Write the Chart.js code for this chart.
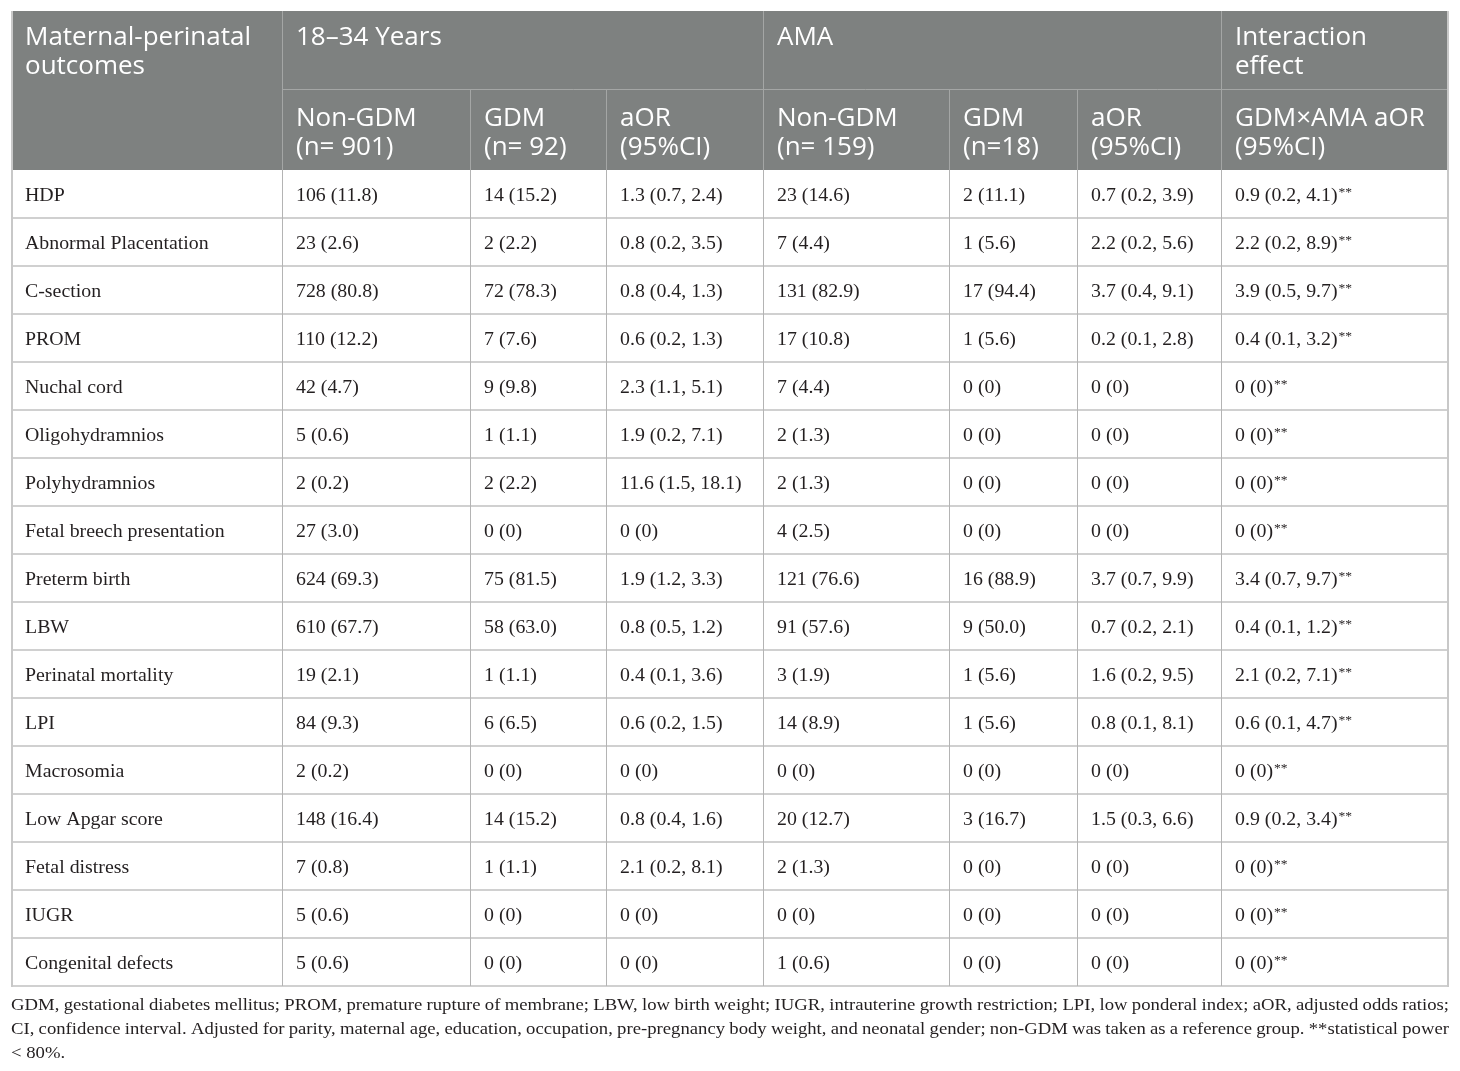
<!DOCTYPE html>
<html>
<head>
<meta charset="utf-8">
<script src="https://cdn.jsdelivr.net/npm/chart.js@4"></script>
<style>
    body { margin: 0; background: #fff; }
    #wrap { width: 1460px; height: 1071px; }
</style>
</head>
<body>
<div id="wrap"><canvas id="myChart"></canvas></div>
<script>
// row categories
const outcomes = ["HDP", "Abnormal Placentation", "C-section", "PROM", "Nuchal cord", "Oligohydramnios",
    "Polyhydramnios", "Fetal breech presentation", "Preterm birth", "LBW", "Perinatal mortality", "LPI",
    "Macrosomia", "Low Apgar score", "Fetal distress", "IUGR", "Congenital defects"];

// 18-34 years
const youngNonGdmN   = [106, 23, 728, 110, 42, 5, 2, 27, 624, 610, 19, 84, 2, 148, 7, 5, 5];
const youngNonGdmPct = [11.8, 2.6, 80.8, 12.2, 4.7, 0.6, 0.2, 3.0, 69.3, 67.7, 2.1, 9.3, 0.2, 16.4, 0.8, 0.6, 0.6];
const youngGdmN      = [14, 2, 72, 7, 9, 1, 2, 0, 75, 58, 1, 6, 0, 14, 1, 0, 0];
const youngGdmPct    = [15.2, 2.2, 78.3, 7.6, 9.8, 1.1, 2.2, 0, 81.5, 63.0, 1.1, 6.5, 0, 15.2, 1.1, 0, 0];
const youngAor       = [1.3, 0.8, 0.8, 0.6, 2.3, 1.9, 11.6, 0, 1.9, 0.8, 0.4, 0.6, 0, 0.8, 2.1, 0, 0];
const youngAorLo     = [0.7, 0.2, 0.4, 0.2, 1.1, 0.2, 1.5, 0, 1.2, 0.5, 0.1, 0.2, 0, 0.4, 0.2, 0, 0];
const youngAorHi     = [2.4, 3.5, 1.3, 1.3, 5.1, 7.1, 18.1, 0, 3.3, 1.2, 3.6, 1.5, 0, 1.6, 8.1, 0, 0];

// AMA
const amaNonGdmN     = [23, 7, 131, 17, 7, 2, 2, 4, 121, 91, 3, 14, 0, 20, 2, 0, 1];
const amaNonGdmPct   = [14.6, 4.4, 82.9, 10.8, 4.4, 1.3, 1.3, 2.5, 76.6, 57.6, 1.9, 8.9, 0, 12.7, 1.3, 0, 0.6];
const amaGdmN        = [2, 1, 17, 1, 0, 0, 0, 0, 16, 9, 1, 1, 0, 3, 0, 0, 0];
const amaGdmPct      = [11.1, 5.6, 94.4, 5.6, 0, 0, 0, 0, 88.9, 50.0, 5.6, 5.6, 0, 16.7, 0, 0, 0];
const amaAor         = [0.7, 2.2, 3.7, 0.2, 0, 0, 0, 0, 3.7, 0.7, 1.6, 0.8, 0, 1.5, 0, 0, 0];
const amaAorLo       = [0.2, 0.2, 0.4, 0.1, 0, 0, 0, 0, 0.7, 0.2, 0.2, 0.1, 0, 0.3, 0, 0, 0];
const amaAorHi       = [3.9, 5.6, 9.1, 2.8, 0, 0, 0, 0, 9.9, 2.1, 9.5, 8.1, 0, 6.6, 0, 0, 0];

// GDM x AMA interaction
const interAor       = [0.9, 2.2, 3.9, 0.4, 0, 0, 0, 0, 3.4, 0.4, 2.1, 0.6, 0, 0.9, 0, 0, 0];
const interAorLo     = [0.2, 0.2, 0.5, 0.1, 0, 0, 0, 0, 0.7, 0.1, 0.2, 0.1, 0, 0.2, 0, 0, 0];
const interAorHi     = [4.1, 8.9, 9.7, 3.2, 0, 0, 0, 0, 9.7, 1.2, 7.1, 4.7, 0, 3.4, 0, 0, 0];

const groupHeaders = [["Maternal-perinatal", "outcomes"], ["18\u201334 Years"], ["AMA"], ["Interaction", "effect"]];
const subHeaders = [["Non-GDM", "(n= 901)"], ["GDM", "(n= 92)"], ["aOR", "(95%CI)"],
    ["Non-GDM", "(n= 159)"], ["GDM", "(n=18)"], ["aOR", "(95%CI)"], ["GDM\u00d7AMA aOR", "(95%CI)"]];

const footLines = [
    "GDM, gestational diabetes mellitus; PROM, premature rupture of membrane; LBW, low birth weight; IUGR, intrauterine growth restriction; LPI, low ponderal index; aOR, adjusted odds ratios;",
    "CI, confidence interval. Adjusted for parity, maternal age, education, occupation, pre-pregnancy body weight, and neonatal gender; non-GDM was taken as a reference group. **statistical power",
    "< 80%."
];

// layout (x in table units, 0 = left table edge)
const colEdges = [0, 271, 459, 595, 752, 938, 1066, 1210, 1438];
const groupSpans = [[0, 1], [1, 4], [4, 7], [7, 8]];

function fmtCount(n, p) {
    return p === 0 ? n + " (0)" : n + " (" + p.toFixed(1) + ")";
}
function fmtAor(a, lo, hi) {
    return a === 0 ? "0 (0)" : a.toFixed(1) + " (" + lo.toFixed(1) + ", " + hi.toFixed(1) + ")";
}

const columns = [
    outcomes.slice(),
    outcomes.map((o, i) => fmtCount(youngNonGdmN[i], youngNonGdmPct[i])),
    outcomes.map((o, i) => fmtCount(youngGdmN[i], youngGdmPct[i])),
    outcomes.map((o, i) => fmtAor(youngAor[i], youngAorLo[i], youngAorHi[i])),
    outcomes.map((o, i) => fmtCount(amaNonGdmN[i], amaNonGdmPct[i])),
    outcomes.map((o, i) => fmtCount(amaGdmN[i], amaGdmPct[i])),
    outcomes.map((o, i) => fmtAor(amaAor[i], amaAorLo[i], amaAorHi[i])),
    outcomes.map((o, i) => fmtAor(interAor[i], interAorLo[i], interAorHi[i]))
];

const headFont = "25px 'Open Sans'";
const bodyFont = "19px 'Liberation Serif'";
const supFont = "13px 'Liberation Serif'";
const footFont = "17px 'Liberation Serif'";
const pad = 14;

// draw text a bit wider than the font gives (the original uses a wider face)
function wideText(ctx, t, x, y, sx) {
    ctx.save();
    ctx.translate(x, y);
    ctx.scale(sx, 1);
    ctx.fillText(t, 0, 0);
    ctx.restore();
}

const tablePlugin = {
    id: "tablePlugin",
    beforeDatasetsDraw(chart) {
        const ctx = chart.ctx;
        const x = chart.scales.x, y = chart.scales.y;
        const left = x.getPixelForValue(0), right = x.getPixelForValue(1438);
        const top = y.top, bottom = y.bottom;
        const band = (bottom - top) / outcomes.length;
        const headTop = 11, headMid = 89;

        ctx.save();
        // header block
        ctx.fillStyle = "#7e8180";
        ctx.fillRect(left, headTop, right - left, top - headTop);

        ctx.strokeStyle = "#a4a6a5";
        ctx.lineWidth = 1;
        ctx.beginPath();
        ctx.moveTo(x.getPixelForValue(colEdges[1]), headMid + 0.5);
        ctx.lineTo(right, headMid + 0.5);
        [1, 4, 7].forEach(c => {
            const px = Math.round(x.getPixelForValue(colEdges[c])) + 0.5;
            ctx.moveTo(px, headTop); ctx.lineTo(px, top);
        });
        [2, 3, 5, 6].forEach(c => {
            const px = Math.round(x.getPixelForValue(colEdges[c])) + 0.5;
            ctx.moveTo(px, headMid); ctx.lineTo(px, top);
        });
        ctx.stroke();

        // header text
        ctx.fillStyle = "#ffffff";
        ctx.font = headFont;
        ctx.textBaseline = "alphabetic";
        groupHeaders.forEach((lines, g) => {
            const px = x.getPixelForValue(colEdges[groupSpans[g][0]]) + pad;
            lines.forEach((t, k) => wideText(ctx, t, px, 45 + k * 29, 1.04));
        });
        subHeaders.forEach((lines, s) => {
            const px = x.getPixelForValue(colEdges[s + 1]) + pad;
            lines.forEach((t, k) => wideText(ctx, t, px, 126 + k * 29, 1.04));
        });

        // body rules
        ctx.strokeStyle = "#d0d0d0";
        ctx.lineWidth = 2;
        ctx.beginPath();
        for (let i = 1; i <= outcomes.length; i++) {
            const py = top + band * i;
            ctx.moveTo(left, py); ctx.lineTo(right, py);
        }
        ctx.stroke();

        ctx.strokeStyle = "#b4b4b4";
        ctx.lineWidth = 1;
        ctx.beginPath();
        for (let c = 1; c < colEdges.length - 1; c++) {
            const px = Math.round(x.getPixelForValue(colEdges[c])) + 0.5;
            ctx.moveTo(px, top); ctx.lineTo(px, bottom);
        }
        ctx.stroke();

        ctx.strokeStyle = "#c8c8c8";
        ctx.lineWidth = 2;
        ctx.beginPath();
        ctx.moveTo(left + 1, headTop); ctx.lineTo(left + 1, bottom + 1);
        ctx.moveTo(right - 1, headTop); ctx.lineTo(right - 1, bottom + 1);
        ctx.stroke();

        // footnote, justified
        ctx.fillStyle = "#231f20";
        ctx.font = footFont;
        const sx = 1.1;
        const width = right - left;
        footLines.forEach((line, k) => {
            const by = 1010 + k * 24;
            if (k === footLines.length - 1) {
                wideText(ctx, line, left, by, sx);
                return;
            }
            const words = line.split(" ");
            const used = words.reduce((s, w) => s + ctx.measureText(w).width * sx, 0);
            const gap = (width - used) / (words.length - 1);
            let px = left;
            words.forEach(w => {
                wideText(ctx, w, px, by, sx);
                px += ctx.measureText(w).width * sx + gap;
            });
        });
        ctx.restore();
    },
    afterDatasetsDraw(chart) {
        const ctx = chart.ctx;
        const sx = 1.045;
        ctx.save();
        ctx.fillStyle = "#231f20";
        ctx.textBaseline = "alphabetic";
        chart.data.datasets.forEach((ds, c) => {
            const meta = chart.getDatasetMeta(c);
            meta.data.forEach((pt, i) => {
                const t = columns[c][i];
                ctx.font = bodyFont;
                wideText(ctx, t, pt.x + pad, pt.y + 7, sx);
                if (c === columns.length - 1) {
                    const w = ctx.measureText(t).width * sx;
                    ctx.font = supFont;
                    wideText(ctx, "**", pt.x + pad + w + 1, pt.y + 2, sx);
                }
            });
        });
        ctx.restore();
    }
};

const datasets = columns.map((col, c) => ({
    label: c === 0 ? "Maternal-perinatal outcomes" : subHeaders[c - 1].join(" "),
    data: outcomes.map(o => ({ x: colEdges[c], y: o })),
    pointRadius: 0,
    pointHoverRadius: 0,
    showLine: false
}));

new Chart(document.getElementById("myChart"), {
    type: "scatter",
    data: { labels: outcomes, datasets: datasets },
    options: {
        responsive: true,
        maintainAspectRatio: false,
        animation: false,
        events: [],
        layout: { padding: { left: 11, right: 11, top: 170, bottom: 85 } },
        plugins: { legend: { display: false }, tooltip: { enabled: false } },
        scales: {
            x: { type: "linear", min: 0, max: 1438, display: false },
            y: { type: "category", labels: outcomes, offset: true, display: false }
        }
    },
    plugins: [tablePlugin]
});
</script>
</body>
</html>
